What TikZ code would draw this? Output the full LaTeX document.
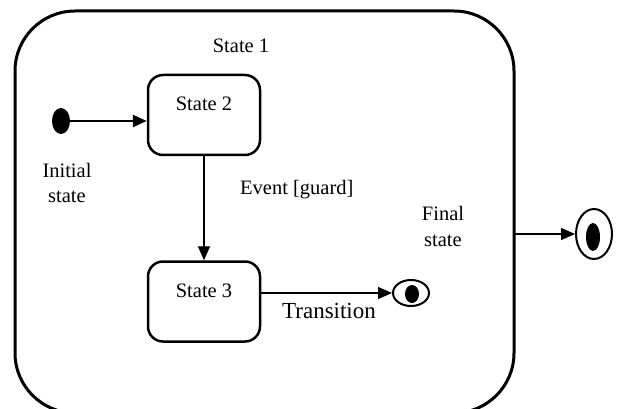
\documentclass[tikz,border=0pt]{standalone}
\usepackage{fontspec}
\setmainfont{Liberation Serif}
\usetikzlibrary{arrows.meta,shapes.geometric}
\begin{document}
\begin{tikzpicture}[x=1pt,y=-1pt,
  lbl/.style={font=\fontsize{20.5}{26}\selectfont, inner sep=0pt, anchor=base},
  statebox/.style={draw, line width=2.5pt, rounded corners=15pt, minimum width=112pt, minimum height=80pt, inner sep=0pt},
  flow/.style={line width=1.3pt, -{Triangle[length=14pt,width=12pt]}},
  dot/.style={ellipse, fill=black, inner sep=0pt},
  ring/.style={ellipse, draw, line width=2pt, inner sep=0pt},
]
\useasboundingbox (0,0) rectangle (619,409);
\begin{scope}
\clip (0,0) rectangle (619,409);
\draw[line width=3pt, rounded corners=60pt] (15,11) rectangle (514,413);
\end{scope}
\coordinate (b1e) at (514,234);
\node[lbl] (s1t) at (241,53) {State 1};

\node[statebox] (s2) at (204,115) {};
\node[lbl] (s2t) at (204,111) {State 2};
\node[statebox] (s3) at (204,301.5) {};
\node[lbl] (s3t) at (204,297) {State 3};

\node[dot, minimum width=18pt, minimum height=26pt] (init) at (61,121) {};
\node[lbl] (it1) at (67,178) {Initial};
\node[lbl] (it2) at (67,203) {state};

\node[ring, minimum width=36pt, minimum height=26pt] (f1) at (411,293) {};
\node[dot, minimum width=14pt, minimum height=18pt] (f1i) at (412,294) {};

\node[ring, minimum width=36pt, minimum height=50pt] (f2) at (594,234) {};
\node[dot, minimum width=14pt, minimum height=28pt] (f2i) at (593,237) {};

\node[lbl, anchor=base west] (ev) at (240,195) {Event [guard]};
\node[lbl] (ft1) at (443,220) {Final};
\node[lbl] (ft2) at (443,246) {state};
\node[lbl, font=\fontsize{23}{28}\selectfont] (tr) at (329,318) {Transition};

\draw[flow, line width=2.5pt] (init) -- (init -| s2.west);
\draw[flow] (s2.south) -- (s3.north);
\draw[flow] (s3.east |- f1) -- (f1.west);
\draw[flow] (b1e) -- (f2.west);
\end{tikzpicture}
\end{document}
